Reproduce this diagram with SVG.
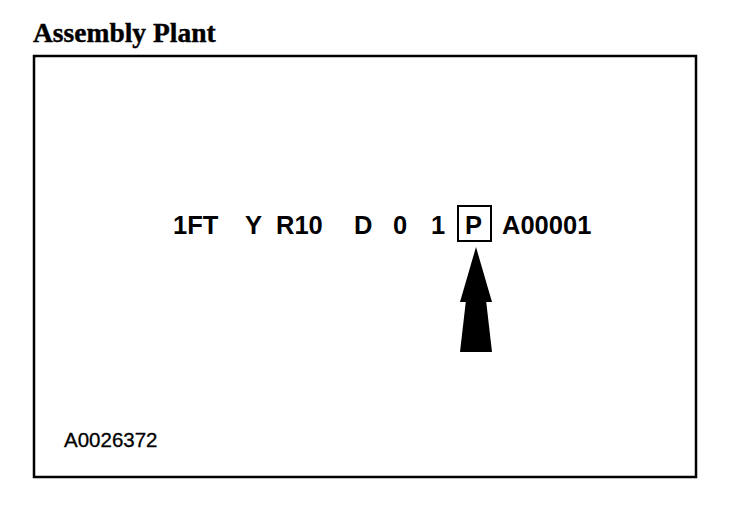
<svg xmlns="http://www.w3.org/2000/svg" width="736" height="512" viewBox="0 0 736 512">
<style>
.code{font-family:"Liberation Sans",Arial,sans-serif;font-weight:bold;font-size:25.5px;fill:#000}
.title{font-family:"Liberation Serif","Times New Roman",serif;font-weight:bold;font-size:27.5px;fill:#000;stroke:#000;stroke-width:0.4}
.ref{font-family:"Liberation Sans",Arial,sans-serif;font-size:20.5px;fill:#000;stroke:#000;stroke-width:0.3}
</style>
<rect width="736" height="512" fill="#fff"/>
<g id="title"><text class="title" x="33" y="42">Assembly Plant</text></g>
<g id="frame"><rect x="34" y="56" width="662" height="421" fill="none" stroke="#000" stroke-width="2.5"/></g>
<g id="vin">
<text class="code" x="173" y="234">1FT</text>
<text class="code" x="245" y="234">Y</text>
<text class="code" x="276" y="234">R10</text>
<text class="code" x="354" y="234">D</text>
<text class="code" x="393" y="234">0</text>
<text class="code" x="431" y="234">1</text>
<text class="code" x="465" y="234">P</text>
<text class="code" x="502" y="234">A00001</text>
</g>
<g id="pbox"><rect x="458" y="206" width="33" height="35" fill="none" stroke="#000" stroke-width="2"/></g>
<g id="connectors">
<polygon points="466,300 486,300 492,352 460,352" fill="#000"/>
<polygon points="476,247 492,302 460,302" fill="#000"/>
</g>
<g id="ref"><text class="ref" x="64" y="447">A0026372</text></g>
</svg>
